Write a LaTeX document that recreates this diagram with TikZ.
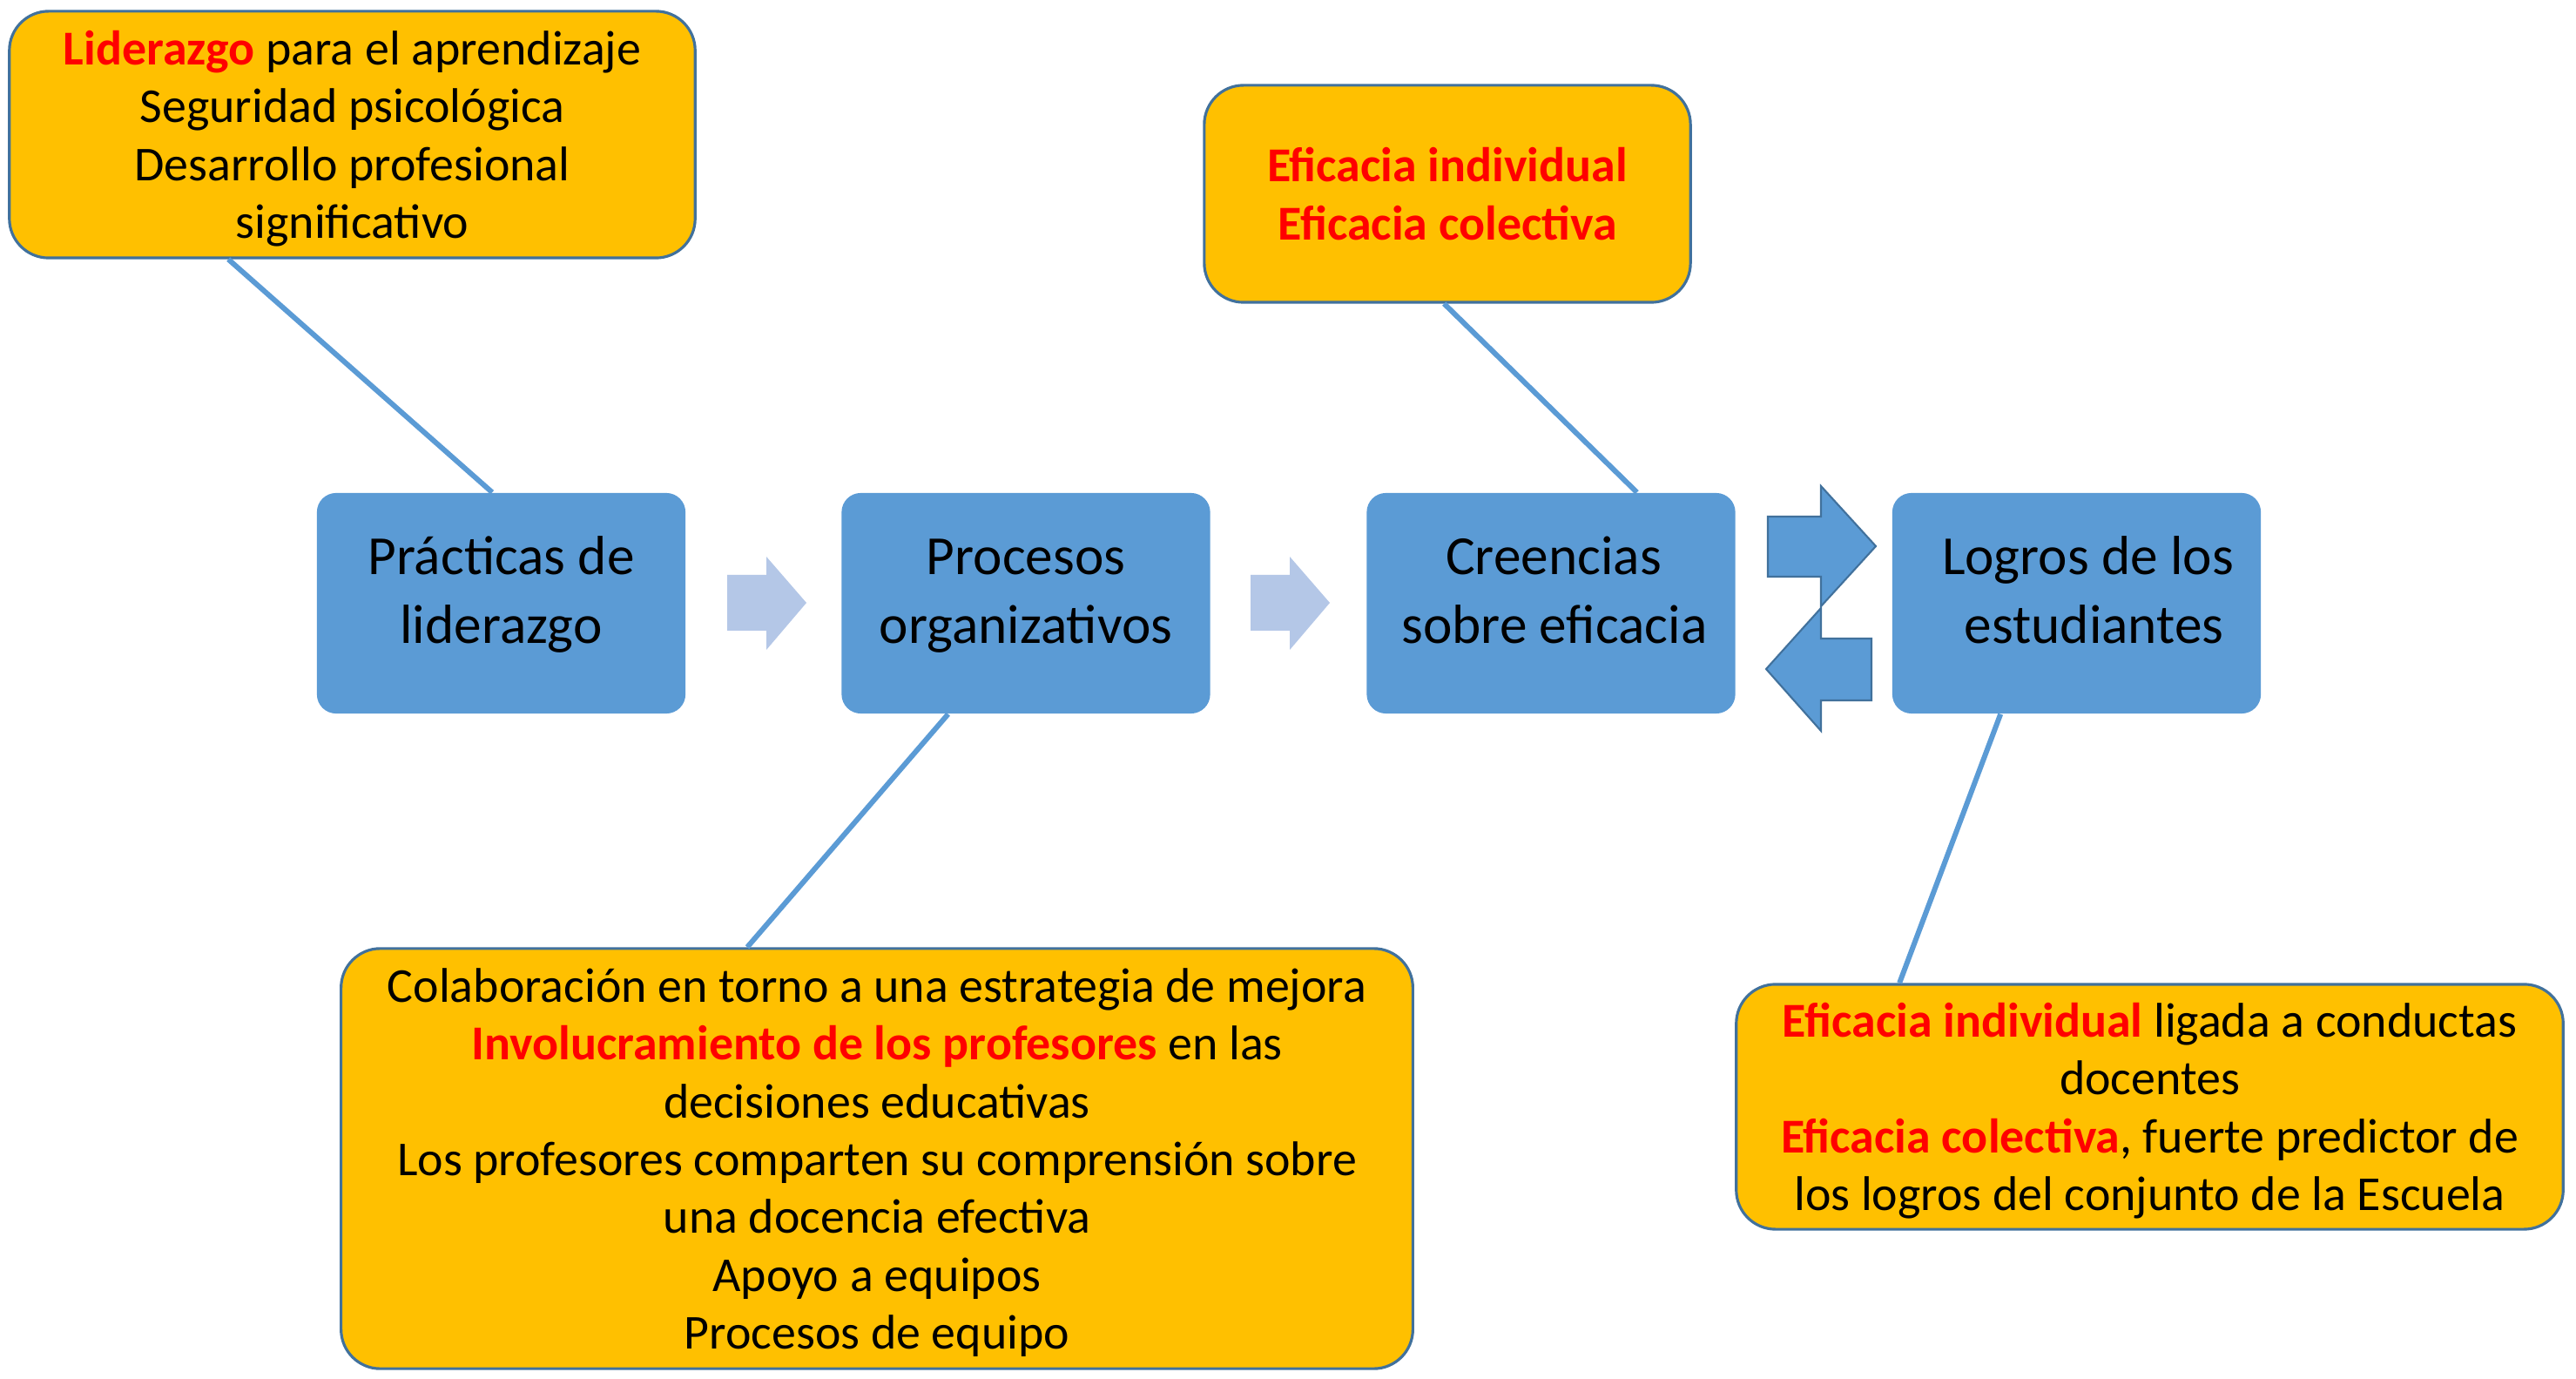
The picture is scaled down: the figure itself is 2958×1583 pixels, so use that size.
\documentclass[tikz,border=0pt]{standalone}
\usepackage{fontspec}
\setmainfont{Carlito}
\usetikzlibrary{calc}
\definecolor{boxblue}{HTML}{5B9BD5}
\definecolor{edgeblue}{HTML}{41719C}
\definecolor{boxyellow}{HTML}{FFC000}
\definecolor{palearrow}{HTML}{B4C7E7}
\definecolor{redtxt}{HTML}{FF0000}
\newcommand{\hlred}[1]{\textbf{\textcolor{redtxt}{#1}}}
\newcommand{\Tb}{\rule{0pt}{3.5pt}}
\newcommand{\Ty}{\rule{0pt}{11.1pt}}
\newcommand{\sm}[1]{\smash{#1}}
\begin{document}
\begin{tikzpicture}[x=0.01cm,y=-0.01cm,
  bluebox/.style={rectangle, rounded corners=0.22cm, fill=boxblue, draw=none, align=center, inner sep=0pt, minimum width=4.23cm, minimum height=2.53cm, font=\fontsize{18}{22.4}\selectfont},
  yellowbox/.style={rectangle, rounded corners=0.45cm, fill=boxyellow, draw=edgeblue, line width=0.9pt, align=center, inner sep=0pt, font=\fontsize{15.9}{18.9}\selectfont},
  link/.style={draw=boxblue, line width=1.7pt},
  palearr/.style={fill=palearrow, draw=none},
  dblarr/.style={fill=boxblue, draw=edgeblue, line width=0.6pt, line join=miter}]
\useasboundingbox (0,0) rectangle (2958,1583);
\fill[white] (0,0) rectangle (2958,1583);

% main blue boxes
\node[bluebox] (A) at (575.5,692.5) {\Tb\sm{Prácticas de}\\\sm{liderazgo}};
\node[bluebox] (B) at (1178,692.5) {\Tb\sm{Procesos}\\\sm{organizativos}};
\node[bluebox] (C) at (1781,692.5) {\Tb\sm{\hspace*{0.06cm}Creencias}\\\sm{\hspace*{0.08cm}sobre eficacia}};
\node[bluebox] (D) at (2384.5,692.5) {\Tb\sm{\hspace*{0.26cm}Logros de los}\\\sm{\hspace*{0.26cm}\ estudiantes}};

% yellow boxes
\node[yellowbox, minimum width=7.87cm, minimum height=2.83cm] (Y1) at (404.5,154.5)
  {\Ty\sm{\hlred{Liderazgo} para el aprendizaje}\\\sm{Seguridad psicológica}\\\sm{Desarrollo profesional}\\\sm{significativo}};
\node[yellowbox, minimum width=5.58cm, minimum height=2.49cm] (Y2) at (1662,222.5)
  {\Ty\sm{\hlred{Eficacia individual}}\\\sm{\hlred{Eficacia colectiva}}};
\node[yellowbox, minimum width=12.30cm, minimum height=4.82cm] (Y3) at (1007,1330)
  {\Ty\sm{Colaboración en torno a una estrategia de mejora}\\\sm{\hlred{Involucramiento de los profesores} en las}\\\sm{decisiones educativas}\\\sm{Los profesores comparten su comprensión sobre}\\\sm{una docencia efectiva}\\\sm{Apoyo a equipos}\\\sm{Procesos de equipo}};
\node[yellowbox, minimum width=9.49cm, minimum height=2.81cm] (Y4) at (2468.5,1270.5)
  {\Ty\sm{\hlred{Eficacia individual} ligada a conductas}\\\sm{docentes}\\\sm{\hlred{Eficacia colectiva}, fuerte predictor de}\\\sm{los logros del conjunto de la Escuela}};

% connectors
\draw[link] ($(Y1.south west)+(253,0)$) -- ($(A.north west)+(202,0)$);
\draw[link] ($(Y2.south west)+(277,0)$) -- ($(C.north west)+(311,0)$);
\draw[link] ($(B.south west)+(123,0)$) -- ($(Y3.north west)+(468,0)$);
\draw[link] ($(D.south west)+(125,0)$) -- ($(Y4.north west)+(189,0)$);

% pale block arrows
\fill[palearr] (835,660) -- (880,660) -- (880,639) -- (926,692) -- (880,746) -- (880,724) -- (835,724) -- cycle;
\fill[palearr] (1436,660) -- (1481,660) -- (1481,639) -- (1527,692) -- (1481,746) -- (1481,724) -- (1436,724) -- cycle;

% double block arrows
\filldraw[dblarr] (2030,593) -- (2091,593) -- (2091,558) -- (2154,627) -- (2091,696) -- (2091,662) -- (2030,662) -- cycle;
\filldraw[dblarr] (2149,733) -- (2091,733) -- (2091,698) -- (2028,768) -- (2091,839) -- (2091,804) -- (2149,804) -- cycle;
\end{tikzpicture}
\end{document}
